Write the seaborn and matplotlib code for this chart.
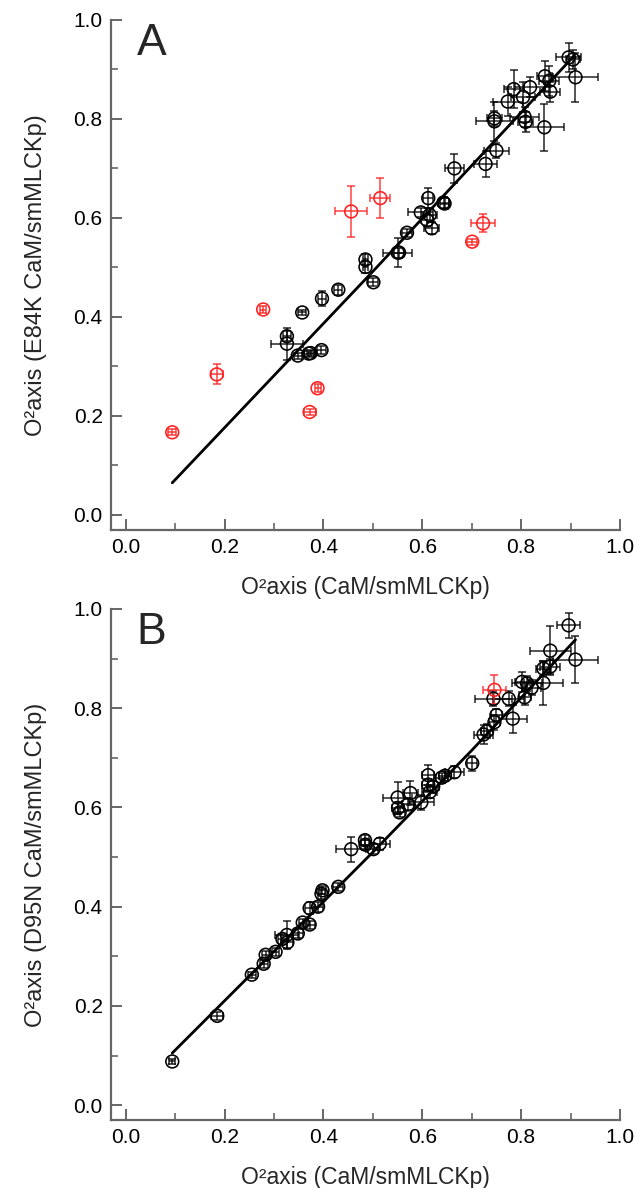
import numpy as np
import pandas as pd
import seaborn as sns
import matplotlib.pyplot as plt
from matplotlib.ticker import MultipleLocator

# panel A: CaM vs E84K CaM
a_blk_x = [0.326, 0.326, 0.348, 0.370, 0.374, 0.396, 0.357, 0.397, 0.430, 0.485, 0.485, 0.501,
           0.550, 0.553, 0.569, 0.597, 0.612, 0.615, 0.610, 0.619, 0.643, 0.645, 0.665, 0.728,
           0.750, 0.746, 0.746, 0.773, 0.785, 0.804, 0.807, 0.809, 0.818, 0.847, 0.848, 0.857,
           0.859, 0.896, 0.910, 0.905]
a_blk_y = [0.361, 0.346, 0.322, 0.326, 0.327, 0.333, 0.409, 0.437, 0.455, 0.516, 0.501, 0.470,
           0.530, 0.530, 0.570, 0.611, 0.640, 0.606, 0.595, 0.579, 0.631, 0.629, 0.700, 0.709,
           0.736, 0.795, 0.801, 0.835, 0.860, 0.844, 0.804, 0.794, 0.864, 0.783, 0.886, 0.877,
           0.855, 0.924, 0.884, 0.920]
a_blk_xerr = [0.008, 0.032, 0.008, 0.010, 0.008, 0.010, 0.008, 0.008, 0.008, 0.006, 0.006, 0.010,
              0.030, 0.010, 0.010, 0.025, 0.010, 0.015, 0.012, 0.015, 0.012, 0.010, 0.020, 0.024,
              0.025, 0.038, 0.015, 0.030, 0.020, 0.025, 0.030, 0.015, 0.030, 0.040, 0.015, 0.020,
              0.020, 0.026, 0.045, 0.015]
a_blk_yerr = [0.010, 0.032, 0.006, 0.006, 0.006, 0.008, 0.006, 0.015, 0.010, 0.012, 0.012, 0.008,
              0.030, 0.010, 0.008, 0.010, 0.020, 0.015, 0.012, 0.012, 0.012, 0.012, 0.029, 0.026,
              0.015, 0.040, 0.015, 0.030, 0.038, 0.030, 0.020, 0.020, 0.020, 0.047, 0.030, 0.030,
              0.020, 0.029, 0.049, 0.020]
a_red_x = [0.094, 0.184, 0.278, 0.372, 0.388, 0.456, 0.515, 0.701, 0.723]
a_red_y = [0.167, 0.284, 0.415, 0.208, 0.256, 0.613, 0.640, 0.552, 0.589]
a_red_xerr = [0.008, 0.012, 0.006, 0.012, 0.006, 0.032, 0.020, 0.010, 0.024]
a_red_yerr = [0.006, 0.020, 0.008, 0.006, 0.008, 0.052, 0.040, 0.006, 0.018]
a_fit_x = [0.094, 0.500, 0.907]
a_fit_y = [0.065, 0.492, 0.927]

# panel B: CaM vs D95N CaM
b_blk_x = [0.094, 0.185, 0.255, 0.279, 0.283, 0.303, 0.317, 0.326, 0.327, 0.348, 0.358, 0.372,
           0.372, 0.389, 0.396, 0.398, 0.430, 0.456, 0.484, 0.485, 0.501, 0.514, 0.550, 0.551,
           0.554, 0.576, 0.571, 0.598, 0.612, 0.612, 0.615, 0.622, 0.639, 0.646, 0.665, 0.701,
           0.724, 0.731, 0.746, 0.750, 0.744, 0.775, 0.783, 0.802, 0.807, 0.812, 0.821, 0.845,
           0.845, 0.859, 0.859, 0.896, 0.910]
b_blk_y = [0.088, 0.180, 0.263, 0.285, 0.303, 0.309, 0.335, 0.343, 0.328, 0.346, 0.368, 0.364,
           0.397, 0.400, 0.426, 0.433, 0.440, 0.516, 0.534, 0.525, 0.516, 0.527, 0.620, 0.599,
           0.590, 0.629, 0.606, 0.610, 0.665, 0.646, 0.631, 0.642, 0.660, 0.664, 0.671, 0.689,
           0.747, 0.754, 0.772, 0.786, 0.819, 0.819, 0.779, 0.853, 0.822, 0.850, 0.841, 0.851,
           0.880, 0.884, 0.916, 0.967, 0.898]
b_blk_xerr = [0.006, 0.012, 0.008, 0.008, 0.008, 0.008, 0.010, 0.025, 0.012, 0.010, 0.008, 0.010,
              0.010, 0.010, 0.008, 0.008, 0.010, 0.030, 0.008, 0.010, 0.010, 0.020, 0.030, 0.012,
              0.010, 0.015, 0.012, 0.025, 0.012, 0.012, 0.015, 0.012, 0.012, 0.012, 0.020, 0.010,
              0.020, 0.012, 0.012, 0.012, 0.038, 0.030, 0.028, 0.015, 0.012, 0.030, 0.020, 0.040,
              0.015, 0.020, 0.042, 0.024, 0.045]
b_blk_yerr = [0.006, 0.008, 0.006, 0.008, 0.008, 0.008, 0.010, 0.029, 0.012, 0.010, 0.008, 0.008,
              0.012, 0.010, 0.010, 0.008, 0.008, 0.025, 0.010, 0.010, 0.010, 0.012, 0.032, 0.012,
              0.010, 0.025, 0.012, 0.015, 0.020, 0.012, 0.012, 0.012, 0.010, 0.010, 0.012, 0.015,
              0.020, 0.015, 0.015, 0.012, 0.015, 0.015, 0.028, 0.020, 0.015, 0.015, 0.015, 0.045,
              0.015, 0.015, 0.050, 0.025, 0.047]
b_red_x = [0.746]
b_red_y = [0.837]
b_red_xerr = [0.024]
b_red_yerr = [0.029]
b_fit_x = [0.094, 0.300, 0.500, 0.700, 0.910]
b_fit_y = [0.105, 0.310, 0.510, 0.715, 0.938]

panel_letters = ["A", "B"]
x_label = "O\u00b2axis (CaM/smMLCKp)"
y_labels = ["O\u00b2axis (E84K CaM/smMLCKp)", "O\u00b2axis (D95N CaM/smMLCKp)"]

sns.set_style("ticks")
plt.rcParams["font.family"] = ["Liberation Sans", "DejaVu Sans"]

fig = plt.figure(figsize=(6.36, 11.88), dpi=100)
axA = fig.add_axes([0.1745, 0.554, 0.8003, 0.4293])
axB = fig.add_axes([0.1745, 0.0572, 0.8003, 0.4302])


def draw_panel(ax, bx, by, bxe, bye, rx, ry, rxe, rye, fx, fy, letter, ylab):
    df = pd.DataFrame({
        "x": bx + rx,
        "y": by + ry,
        "xerr": bxe + rxe,
        "yerr": bye + rye,
        "grp": ["black"] * len(bx) + ["red"] * len(rx),
    })
    pal = {"black": "black", "red": "#ff2020"}
    for g, sub in df.groupby("grp"):
        ax.errorbar(sub["x"], sub["y"], xerr=sub["xerr"], yerr=sub["yerr"], fmt="none",
                    ecolor=pal[g], elinewidth=1.1, capsize=3, capthick=1.1, alpha=0.85, zorder=2)
    sns.scatterplot(data=df, x="x", y="y", hue="grp", palette=pal, s=85, marker="o",
                    linewidth=1.15, legend=False, ax=ax, zorder=3)
    pts = ax.collections[-1]
    pts.set_edgecolors([pal[g] for g in df["grp"]])
    pts.set_facecolors("none")
    sns.lineplot(x=fx, y=fy, sort=False, color="black", linewidth=2, ax=ax, zorder=4)

    ax.set_xlim(-0.03, 1.0)
    ax.set_ylim(-0.03, 1.0)
    ax.xaxis.set_major_locator(MultipleLocator(0.2))
    ax.xaxis.set_minor_locator(MultipleLocator(0.1))
    ax.yaxis.set_major_locator(MultipleLocator(0.2))
    ax.yaxis.set_minor_locator(MultipleLocator(0.1))
    ax.xaxis.set_major_formatter(lambda v, p: f"{v:.1f}")
    ax.yaxis.set_major_formatter(lambda v, p: f"{v:.1f}")
    ax.tick_params(which="major", direction="in", length=8, width=1.4, color="#666666",
                   labelsize=15, pad=6, labelcolor="black")
    ax.tick_params(which="minor", direction="in", length=5, width=1.2, color="#666666")
    sns.despine(ax=ax)
    for s in ["left", "bottom"]:
        ax.spines[s].set_color("#666666")
        ax.spines[s].set_linewidth(1.6)
    ax.set_xlabel(x_label, fontsize=16.5)
    ax.set_ylabel(ylab, fontsize=17)
    ax.xaxis.set_label_coords(0.5, -0.09)
    ax.yaxis.set_label_coords(-0.125, 0.5)
    ax.text(0.08, 0.953, letter, transform=ax.transAxes, fontsize=32,
            ha="center", va="center")


draw_panel(axA, a_blk_x, a_blk_y, a_blk_xerr, a_blk_yerr, a_red_x, a_red_y, a_red_xerr,
           a_red_yerr, a_fit_x, a_fit_y, panel_letters[0], y_labels[0])
draw_panel(axB, b_blk_x, b_blk_y, b_blk_xerr, b_blk_yerr, b_red_x, b_red_y, b_red_xerr,
           b_red_yerr, b_fit_x, b_fit_y, panel_letters[1], y_labels[1])

fig.savefig("out.png", dpi=100)
